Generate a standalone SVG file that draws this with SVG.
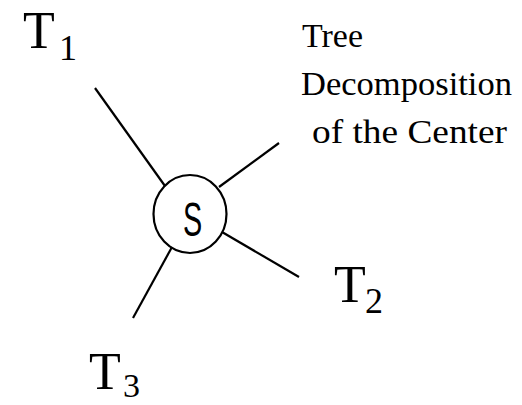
<svg xmlns="http://www.w3.org/2000/svg" width="522" height="405" viewBox="0 0 522 405">
<style>
.lbl{font-family:"Liberation Serif","Times New Roman",serif;fill:#000}
.big{font-size:52px}
.sub{font-size:36px}
.sub3{font-size:34px}
.note{font-size:34px}
.sym{font-family:"Liberation Sans",Arial,sans-serif;font-size:48px;fill:#000}
.edge{stroke:#000;stroke-width:2.2;fill:none}
</style>
<rect width="522" height="405" fill="#fff"/>
<g id="connectors">
<line class="edge" x1="95" y1="88" x2="165" y2="186"/>
<line class="edge" x1="219" y1="187" x2="279" y2="143"/>
<line class="edge" x1="222" y1="232" x2="299" y2="277"/>
<line class="edge" x1="172" y1="247" x2="133" y2="318"/>
</g>
<g id="node-S">
<ellipse cx="190" cy="214" rx="36.5" ry="39" fill="none" stroke="#000" stroke-width="2.2"/>
<text class="sym" x="192.5" y="236" text-anchor="middle" transform="translate(192.5 0) scale(0.6 1) translate(-192.5 0)">S</text>
</g>
<g id="node-T1">
<text class="lbl big" x="23" y="48">T</text>
<text class="lbl sub" x="59" y="60">1</text>
</g>
<g id="node-T2">
<text class="lbl big" x="334" y="302">T</text>
<text class="lbl sub" x="365" y="313">2</text>
</g>
<g id="node-T3">
<text class="lbl big" x="89" y="389">T</text>
<text class="lbl sub3" x="123" y="397">3</text>
</g>
<g id="caption">
<text class="lbl note" x="302" y="47" textLength="61" lengthAdjust="spacingAndGlyphs">Tree</text>
<text class="lbl note" x="301" y="95" textLength="211" lengthAdjust="spacingAndGlyphs">Decomposition</text>
<text class="lbl note" x="312" y="143" textLength="195" lengthAdjust="spacingAndGlyphs">of the Center</text>
</g>
</svg>
